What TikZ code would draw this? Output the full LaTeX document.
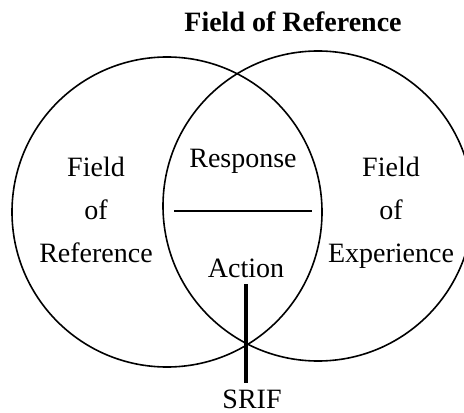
\documentclass[tikz,border=0pt]{standalone}
\usepackage{fontspec}
\setmainfont{Liberation Serif}

\tikzstyle{every path} = [line width=0.8pt,black]
\tikzstyle{venntext} = [font=\fontsize{14}{16}\selectfont, inner sep=3pt, anchor=base]
\tikzstyle{titletext} = [font=\fontsize{14}{16}\selectfont\bfseries, anchor=base]

\begin{document}
\begin{tikzpicture}[x=0.5pt,y=0.5pt]
    \useasboundingbox (0,0) rectangle (464,412);

    % Title
    \node[titletext] (title) at (293,380) {Field of Reference};

    % Circles
    \draw (167,200) circle (155);
    \draw (318,206) circle (155);

    % Left field
    \node[venntext] (lfield) at (96,235) {Field};
    \node[venntext] (lof) at (96,192) {of};
    \node[venntext] (lref) at (96,150) {Reference};

    % Right field
    \node[venntext] (rfield) at (391,235) {Field};
    \node[venntext] (rof) at (391,192) {of};
    \node[venntext] (rexp) at (391,150) {Experience};

    % Overlap
    \node[venntext] (response) at (243,244) {Response};
    \draw[line width=1pt] (174,201) -- (312,201);
    \node[venntext] (action) at (246,135) {Action};

    % SRIF
    \node[venntext] (srif) at (252,4) {SRIF};
    \draw[line width=1.6pt] (action.south) -- (action.south |- srif.north);
\end{tikzpicture}
\end{document}
